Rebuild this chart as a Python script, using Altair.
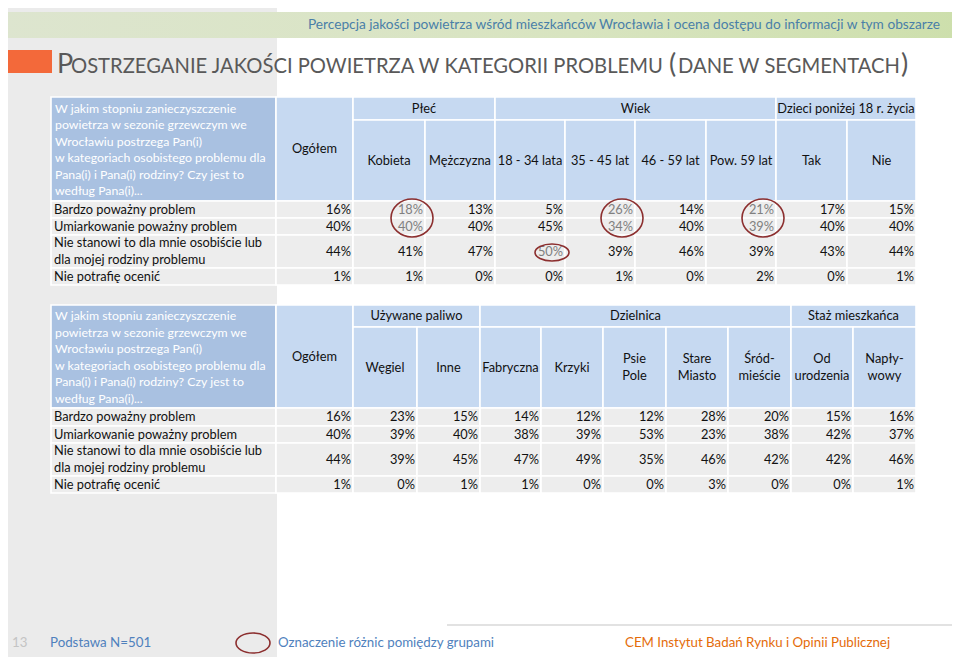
import altair as alt
import pandas as pd

FONT = "Lato"
W, H = 944, 649

# ---------------- data ----------------
subtitle = "Percepcja jakości powietrza wśród mieszkańców Wrocławia i ocena dostępu do informacji w tym obszarze"
title_big = ["P", "(", ")"]
title_small = ["OSTRZEGANIE JAKOŚCI POWIETRZA W KATEGORII PROBLEMU", "DANE W SEGMENTACH"]

question = ("W jakim stopniu zanieczyszczenie\npowietrza w sezonie grzewczym we\n"
            "Wrocławiu postrzega Pan(i)\nw kategoriach osobistego problemu dla\n"
            "Pana(i) i Pana(i) rodziny? Czy jest to\nwedług Pana(i)...")
row_labels = ["Bardzo poważny problem",
              "Umiarkowanie poważny problem",
              "Nie stanowi to dla mnie osobiście lub\ndla mojej rodziny problemu",
              "Nie potrafię ocenić"]

# table 1
t1_columns = ["Ogółem", "Kobieta", "Mężczyzna", "18 - 34 lata", "35 - 45 lat",
              "46 - 59 lat", "Pow. 59 lat", "Tak", "Nie"]
t1_groups = ["Płeć", "Wiek", "Dzieci poniżej 18 r. życia"]
t1_group_span = [(1, 2), (3, 6), (7, 8)]
ogolem = [16, 40, 44, 1]
kobieta = [18, 40, 41, 1]
mezczyzna = [13, 40, 47, 0]
wiek_18_34 = [5, 45, 50, 0]
wiek_35_45 = [26, 34, 39, 1]
wiek_46_59 = [14, 40, 46, 0]
wiek_59plus = [21, 39, 39, 2]
dzieci_tak = [17, 40, 43, 0]
dzieci_nie = [15, 40, 44, 1]
t1_values = [ogolem, kobieta, mezczyzna, wiek_18_34, wiek_35_45, wiek_46_59,
             wiek_59plus, dzieci_tak, dzieci_nie]
t1_circled = [("Kobieta", [0, 1]), ("35 - 45 lat", [0, 1]),
              ("Pow. 59 lat", [0, 1]), ("18 - 34 lata", [2])]

# table 2
t2_columns = ["Ogółem", "Węgiel", "Inne", "Fabryczna", "Krzyki", "Psie\nPole",
              "Stare\nMiasto", "Śród-\nmieście", "Od\nurodzenia", "Napły-\nwowy"]
t2_groups = ["Używane paliwo", "Dzielnica", "Staż mieszkańca"]
t2_group_span = [(1, 2), (3, 7), (8, 9)]
wegiel = [23, 39, 39, 0]
inne = [15, 40, 45, 1]
fabryczna = [14, 38, 47, 1]
krzyki = [12, 39, 49, 0]
psie_pole = [12, 53, 35, 0]
stare_miasto = [28, 23, 46, 3]
srodmiescie = [20, 38, 42, 0]
od_urodzenia = [15, 42, 42, 0]
naplywowy = [16, 37, 46, 1]
t2_values = [ogolem, wegiel, inne, fabryczna, krzyki, psie_pole, stare_miasto,
             srodmiescie, od_urodzenia, naplywowy]
t2_circled = []

footer_page = "13"
footer_base = "Podstawa  N=501"
footer_legend = "Oznaczenie różnic pomiędzy grupami"
footer_org = "CEM Instytut Badań Rynku i Opinii Publicznej"

# ---------------- style / layout ----------------
Q_FILL = "#a9c1e1"
H_FILL = "#c6d9f1"
D_FILL = "#ededed"
TXT = "#111111"
GRAY_TXT = "#808080"
RING = "#8c2f2f"
FS = 12.8
QFS = 12.3
LH = 16.5

T1 = dict(top=97, grp=120, hdr=201, rows=[201, 218, 235, 268, 285],
          cols=[51, 276, 353, 425, 495, 565, 635, 706, 776, 847, 916])
T2 = dict(top=305, grp=327, hdr=408, rows=[408, 426, 443, 476, 493],
          cols=[51, 276, 353, 417, 480, 541, 603, 666, 728, 791, 853, 916])


def ellipse_path(ratio):
    k = 0.5523
    r = ratio
    return (f"M 1 0 C 1 {k*r:.4f} {k} {r:.4f} 0 {r:.4f} "
            f"C {-k} {r:.4f} -1 {k*r:.4f} -1 0 "
            f"C -1 {-k*r:.4f} {-k} {-r:.4f} 0 {-r:.4f} "
            f"C {k} {-r:.4f} 1 {-k*r:.4f} 1 0 Z")


bg_rects, cell_rects, texts, ells = [], [], [], []


def add_text(x, cy, text, color=TXT, size=FS, align="left"):
    n = text.count("\n") + 1
    y = cy - (n - 1) * LH / 2  # centre a multi-line block on cy
    texts.append(dict(x=x, y=y, text=text, color=color, size=size, align=align))


def build_table(L, columns, groups, spans, values, circled):
    ce = L["cols"]
    vx = ce[1:]
    top, grp, hdr, rows = L["top"], L["grp"], L["hdr"], L["rows"]
    circ_set = {(c, r) for c, rs in circled for r in rs}
    # header
    cell_rects.append(dict(x=ce[0], x2=ce[1], y=top, y2=hdr, fill=Q_FILL))
    add_text(ce[0] + 4, (top + hdr) / 2 + 1, question, color="#ffffff", size=QFS)
    cell_rects.append(dict(x=vx[0], x2=vx[1], y=top, y2=hdr, fill=H_FILL))
    add_text((vx[0] + vx[1]) / 2, (top + hdr) / 2, columns[0], align="center")
    for g, (a, b) in zip(groups, spans):
        cell_rects.append(dict(x=vx[a], x2=vx[b + 1], y=top, y2=grp, fill=H_FILL))
        add_text((vx[a] + vx[b + 1]) / 2, (top + grp) / 2, g, align="center")
    for j in range(1, len(columns)):
        cell_rects.append(dict(x=vx[j], x2=vx[j + 1], y=grp, y2=hdr, fill=H_FILL))
        add_text((vx[j] + vx[j + 1]) / 2, (grp + hdr) / 2, columns[j], align="center")
    # body
    for r, lab in enumerate(row_labels):
        y0, y1 = rows[r], rows[r + 1]
        cy = (y0 + y1) / 2
        cell_rects.append(dict(x=ce[0], x2=ce[1], y=y0, y2=y1, fill=D_FILL))
        add_text(ce[0] + 3, cy, lab)
        for j, col in enumerate(columns):
            cell_rects.append(dict(x=vx[j], x2=vx[j + 1], y=y0, y2=y1, fill=D_FILL))
            col_color = GRAY_TXT if (col, r) in circ_set else TXT
            add_text(vx[j + 1] - 2, cy, f"{values[j][r]}%", color=col_color, align="right")
    for col, rs in circled:
        j = columns.index(col)
        two = len(rs) > 1
        rx, ry = (21, 19) if two else (17, 8.5)
        cy = (rows[min(rs)] + rows[max(rs) + 1]) / 2 + (0 if two else 1)
        ells.append(dict(x=vx[j + 1] - 13, y=cy, shape=ellipse_path(ry / rx),
                         size=(2 * rx) ** 2))


# background panel
bg_rects.append(dict(x=0, x2=277, y=0, y2=665, fill="#ebebeb"))
# orange square
bg_rects.append(dict(x=0, x2=52, y=50, y2=73, fill="#f3693a"))

build_table(T1, t1_columns, t1_groups, t1_group_span, t1_values, t1_circled)
build_table(T2, t2_columns, t2_groups, t2_group_span, t2_values, t2_circled)

# footer legend ellipse
ells.append(dict(x=253, y=643, shape=ellipse_path(10 / 17), size=(2 * 17) ** 2))

xs = alt.Scale(domain=[8, 8 + W], range=[0, W], nice=False, zero=False)
ys = alt.Scale(domain=[8, 8 + H], range=[0, H], nice=False, zero=False)


def X(f="x"):
    return alt.X(f"{f}:Q", scale=xs, axis=None)


def Y(f="y"):
    return alt.Y(f"{f}:Q", scale=ys, axis=None)


bg = alt.Chart(pd.DataFrame(bg_rects)).mark_rect().encode(
    x=X(), x2="x2:Q", y=Y(), y2="y2:Q", color=alt.Color("fill:N", scale=None))

band = alt.Chart(pd.DataFrame([dict(x=0, x2=960, y=12, y2=38)])).mark_rect(
    fill=alt.Gradient(gradient="linear", x1=0, x2=1, y1=0, y2=0,
                      stops=[alt.GradientStop(color="#dde5cf", offset=0),
                             alt.GradientStop(color="#d8e4c0", offset=0.6),
                             alt.GradientStop(color="#cddfac", offset=1)])
).encode(x=X(), x2="x2:Q", y=Y(), y2="y2:Q")

cells = alt.Chart(pd.DataFrame(cell_rects)).mark_rect(stroke="white", strokeWidth=1.6).encode(
    x=X(), x2="x2:Q", y=Y(), y2="y2:Q", color=alt.Color("fill:N", scale=None))

tdf = pd.DataFrame(texts)
text_layers = []
for al in ["left", "center", "right"]:
    sub = tdf[tdf["align"] == al]
    text_layers.append(
        alt.Chart(sub).mark_text(align=al, baseline="middle", font=FONT,
                                 lineBreak="\n", lineHeight=LH).encode(
            x=X(), y=Y(), text="text:N",
            color=alt.Color("color:N", scale=None),
            size=alt.Size("size:Q", scale=None)))

ring = alt.Chart(pd.DataFrame(ells)).mark_point(filled=False, strokeWidth=1.6, opacity=1).encode(
    x=X(), y=Y(), shape=alt.Shape("shape:N", scale=None),
    size=alt.Size("size:Q", scale=None), color=alt.value(RING))

# subtitle + title
head_txt = pd.DataFrame([dict(x=940, y=25, text=subtitle)])
head = alt.Chart(head_txt).mark_text(align="right", baseline="middle", font=FONT,
                                     fontSize=13.7, color="#4a7fa8").encode(x=X(), y=Y(), text="text:N")

big_df = pd.DataFrame(dict(x=[57, 669, 901], y=[73] * 3, text=title_big))
small_df = pd.DataFrame(dict(x=[71, 678], y=[73] * 2, text=title_small))
title_big_l = alt.Chart(big_df).mark_text(align="left", baseline="alphabetic", font=FONT,
                                          fontSize=27, color="#595959").encode(x=X(), y=Y(), text="text:N")
title_small_l = alt.Chart(small_df).mark_text(align="left", baseline="alphabetic", font=FONT,
                                              fontSize=20.2, color="#595959").encode(x=X(), y=Y(), text="text:N")

# footer
rule = alt.Chart(pd.DataFrame([dict(x=447, x2=960, y=625)])).mark_rule(
    color="#d9d9d9", strokeWidth=1.5).encode(x=X(), x2="x2:Q", y=Y())
foot_df = pd.DataFrame(dict(
    x=[12, 50, 278, 625], y=[643] * 4,
    text=[footer_page, footer_base, footer_legend, footer_org],
    color=["#c4c4c4", "#4f81bd", "#4f81bd", "#e46c0a"]))
foot = alt.Chart(foot_df).mark_text(align="left", baseline="middle", font=FONT, fontSize=13.3).encode(
    x=X(), y=Y(), text="text:N", color=alt.Color("color:N", scale=None))

chart = alt.layer(bg, band, cells, *text_layers, ring, head, title_big_l, title_small_l,
                  rule, foot).properties(
    width=W, height=H, padding=0, autosize=alt.AutoSizeParams(type="none"),
    background="white"
).configure_view(stroke=None)

chart.save("out.html", embed_options={"renderer": "svg", "actions": False})
